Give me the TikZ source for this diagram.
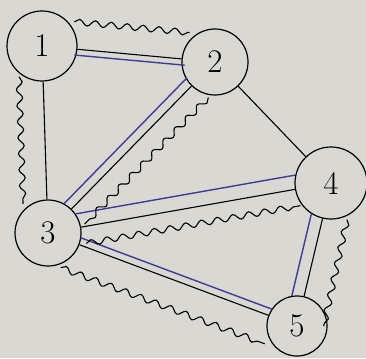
\documentclass[tikz,border=0pt]{standalone}
\usetikzlibrary{calc,decorations.pathmorphing}
\definecolor{paper}{RGB}{218,216,211}
\definecolor{penblue}{RGB}{62,60,150}
\begin{document}
\begin{tikzpicture}[x=1pt,y=-1pt,
  vert/.style={circle,draw,line width=1.2pt,inner sep=0pt,font=\fontsize{33}{33}\selectfont},
  edge/.style={line width=1.1pt},
  blueedge/.style={line width=1.4pt,draw=penblue},
  wavy/.style={line width=1.1pt,decorate,decoration={snake,amplitude=3pt,segment length=16pt}}]
\fill[paper] (0,0) rectangle (366,358);
\useasboundingbox (0,0) rectangle (366,358);
\node[vert,minimum size=70pt] (n1) at (42,46) {1};
\node[vert,minimum size=66pt] (n2) at (215,62) {2};
\node[vert,minimum size=66pt] (n3) at (48,233) {3};
\node[vert,minimum size=72pt] (n4) at (331,183) {4};
\node[vert,minimum size=60pt] (n5) at (297,326) {5};
% black edges
\draw[edge] (n1) -- (n2);
\draw[edge] (n1) -- (n3);
\draw[edge] (n2) -- (n3);
\draw[edge] (n2) -- (n4);
\draw[edge] (n3) -- (n4);
\draw[edge] (n3) -- (n5);
\draw[edge] (n4) -- (n5);
% blue edges
\draw[blueedge,shorten <=33pt,shorten >=30pt] ($(n1)!6pt!-90:(n2)$) -- ($(n2)!6pt!90:(n1)$);
\draw[blueedge,shorten <=31pt,shorten >=31pt] ($(n2)!9pt!-90:(n3)$) -- ($(n3)!9pt!90:(n2)$);
\draw[blueedge,shorten <=31pt,shorten >=34pt] ($(n3)!14pt!90:(n4)$) -- ($(n4)!14pt!-90:(n3)$);
\draw[blueedge,shorten <=32pt,shorten >=29pt] ($(n3)!7pt!90:(n5)$) -- ($(n5)!7pt!-90:(n3)$);
\draw[blueedge,shorten <=34pt,shorten >=28pt] ($(n4)!12pt!-90:(n5)$) -- ($(n5)!12pt!90:(n4)$);
% wavy edge end points
\coordinate (p12) at ($(n1)!30pt!(n2)$);   \coordinate (q12) at ($(n2)!28pt!(n1)$);
\coordinate (p13) at ($(n1)!30pt!(n3)$);   \coordinate (q13) at ($(n3)!30pt!(n1)$);
\coordinate (p23) at ($(n2)!30pt!(n3)$);   \coordinate (q23) at ($(n3)!32pt!(n2)$);
\coordinate (p34) at ($(n3)!36pt!(n4)$);   \coordinate (q34) at ($(n4)!34pt!(n3)$);
\coordinate (p35) at ($(n3)!24pt!(n5)$);   \coordinate (q35) at ($(n5)!24pt!(n3)$);
\coordinate (p45) at ($(n4)!32pt!(n5)$);   \coordinate (q45) at ($(n5)!6pt!(n4)$);
\coordinate (a12) at ($(p12)!27pt!90:(n2)$); \coordinate (b12) at ($(q12)!27pt!-90:(n1)$);
\coordinate (a13) at ($(p13)!24pt!-90:(n3)$); \coordinate (b13) at ($(q13)!24pt!90:(n1)$);
\coordinate (a23) at ($(p23)!20pt!90:(n3)$); \coordinate (b23) at ($(q23)!20pt!-90:(n2)$);
\coordinate (a34) at ($(p34)!17pt!-90:(n4)$); \coordinate (b34) at ($(q34)!17pt!90:(n3)$);
\coordinate (a35) at ($(p35)!28pt!-90:(n5)$); \coordinate (b35) at ($(q35)!28pt!90:(n3)$);
\coordinate (a45) at ($(p45)!24pt!90:(n5)$); \coordinate (b45) at ($(q45)!26pt!-90:(n4)$);
\draw[wavy] (a12) -- (b12);
\draw[wavy] (a13) -- (b13);
\draw[wavy] (a23) -- (b23);
\draw[wavy] (a34) -- (b34);
\draw[wavy] (a35) -- (b35);
\draw[wavy] (a45) -- (b45);
\end{tikzpicture}
\end{document}
